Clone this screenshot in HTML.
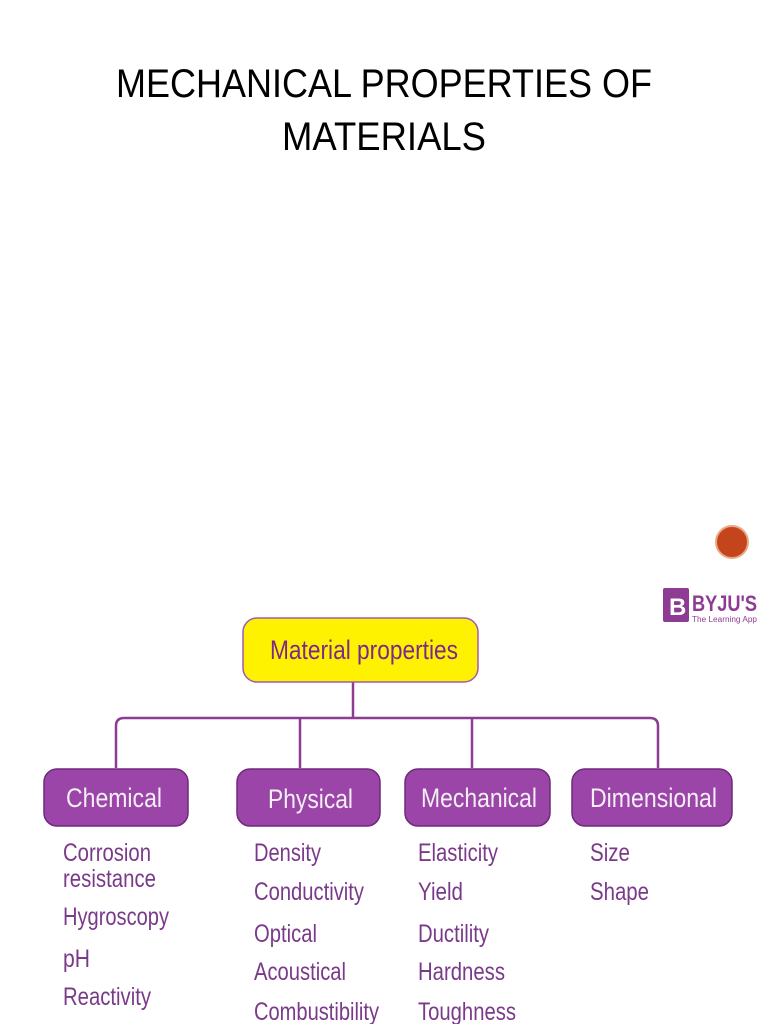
<!DOCTYPE html>
<html><head><meta charset="utf-8"><style>
html,body{margin:0;padding:0;background:#fff;}
svg{display:block;}
</style></head><body>
<svg width="768" height="1024" viewBox="0 0 768 1024" xmlns="http://www.w3.org/2000/svg">
<g font-family="Liberation Sans, DejaVu Sans, sans-serif" fill="#000">
<text x="384" y="97" font-size="40" text-anchor="middle" textLength="536" lengthAdjust="spacingAndGlyphs">MECHANICAL PROPERTIES OF</text>
<text x="384" y="150" font-size="40" text-anchor="middle" textLength="204" lengthAdjust="spacingAndGlyphs">MATERIALS</text>
</g>
<!-- orange circle -->
<circle cx="732" cy="542" r="16" fill="#c4451c" stroke="#e9a887" stroke-width="2"/>
<!-- BYJU'S logo -->
<rect x="663" y="588" width="26" height="34" rx="2" fill="#8e3b93"/>
<text x="669" y="615" font-family="Liberation Sans, sans-serif" font-size="24" font-weight="bold" fill="#fff">B</text>
<text x="692" y="611" font-family="Liberation Sans, sans-serif" font-size="22" font-weight="bold" fill="#8e3b93" textLength="65" lengthAdjust="spacingAndGlyphs">BYJU'S</text>
<text x="692" y="622" font-family="Liberation Sans, sans-serif" font-size="8" fill="#8e3b93" textLength="65" lengthAdjust="spacingAndGlyphs">The Learning App</text>
<!-- connectors -->
<g stroke="#8e3b93" stroke-width="2.5" fill="none">
<line x1="353" y1="682" x2="353" y2="718"/>
<path d="M116 768 V726 Q116 718 124 718 H650 Q658 718 658 726 V768"/>
<line x1="300" y1="718" x2="300" y2="768"/>
<line x1="472" y1="718" x2="472" y2="768"/>
</g>
<!-- root -->
<rect x="243" y="618" width="235" height="64" rx="14" fill="#fff200" stroke="#a05ab0" stroke-width="1.5"/>
<text x="364" y="659" font-family="Liberation Sans Narrow, Liberation Sans, sans-serif" font-size="27" fill="#7b2a8c" text-anchor="middle" textLength="188" lengthAdjust="spacingAndGlyphs">Material properties</text>
<!-- category boxes -->
<g fill="#9c45a8" stroke="#6e2a7a" stroke-width="1.5">
<rect x="44" y="769" width="144" height="57" rx="13"/>
<rect x="237" y="769" width="143" height="57" rx="13"/>
<rect x="405" y="769" width="145" height="57" rx="13"/>
<rect x="572" y="769" width="160" height="57" rx="13"/>
</g>
<g font-family="Liberation Sans Narrow, Liberation Sans, sans-serif" font-size="27" fill="#f4eef6">
<text x="66" y="807" textLength="96" lengthAdjust="spacingAndGlyphs">Chemical</text>
<text x="268" y="808" textLength="85" lengthAdjust="spacingAndGlyphs">Physical</text>
<text x="421" y="807" textLength="116" lengthAdjust="spacingAndGlyphs">Mechanical</text>
<text x="590" y="807" textLength="127" lengthAdjust="spacingAndGlyphs">Dimensional</text>
</g>
<g font-family="Liberation Sans Narrow, Liberation Sans, sans-serif" font-size="25" fill="#7a3a8a" lengthAdjust="spacingAndGlyphs">
<text x="63" y="861" textLength="88" lengthAdjust="spacingAndGlyphs">Corrosion</text>
<text x="63" y="887" textLength="93" lengthAdjust="spacingAndGlyphs">resistance</text>
<text x="63" y="925" textLength="106" lengthAdjust="spacingAndGlyphs">Hygroscopy</text>
<text x="63" y="967" textLength="27" lengthAdjust="spacingAndGlyphs">pH</text>
<text x="63" y="1005" textLength="88" lengthAdjust="spacingAndGlyphs">Reactivity</text>
<text x="254" y="861" textLength="67" lengthAdjust="spacingAndGlyphs">Density</text>
<text x="254" y="900" textLength="110" lengthAdjust="spacingAndGlyphs">Conductivity</text>
<text x="254" y="942" textLength="63" lengthAdjust="spacingAndGlyphs">Optical</text>
<text x="254" y="980" textLength="92" lengthAdjust="spacingAndGlyphs">Acoustical</text>
<text x="254" y="1020" textLength="125" lengthAdjust="spacingAndGlyphs">Combustibility</text>
<text x="418" y="861" textLength="80" lengthAdjust="spacingAndGlyphs">Elasticity</text>
<text x="418" y="900" textLength="45" lengthAdjust="spacingAndGlyphs">Yield</text>
<text x="418" y="942" textLength="71" lengthAdjust="spacingAndGlyphs">Ductility</text>
<text x="418" y="980" textLength="87" lengthAdjust="spacingAndGlyphs">Hardness</text>
<text x="418" y="1020" textLength="98" lengthAdjust="spacingAndGlyphs">Toughness</text>
<text x="590" y="861" textLength="40" lengthAdjust="spacingAndGlyphs">Size</text>
<text x="590" y="900" textLength="59" lengthAdjust="spacingAndGlyphs">Shape</text>
</g>
</svg>
</body></html>
